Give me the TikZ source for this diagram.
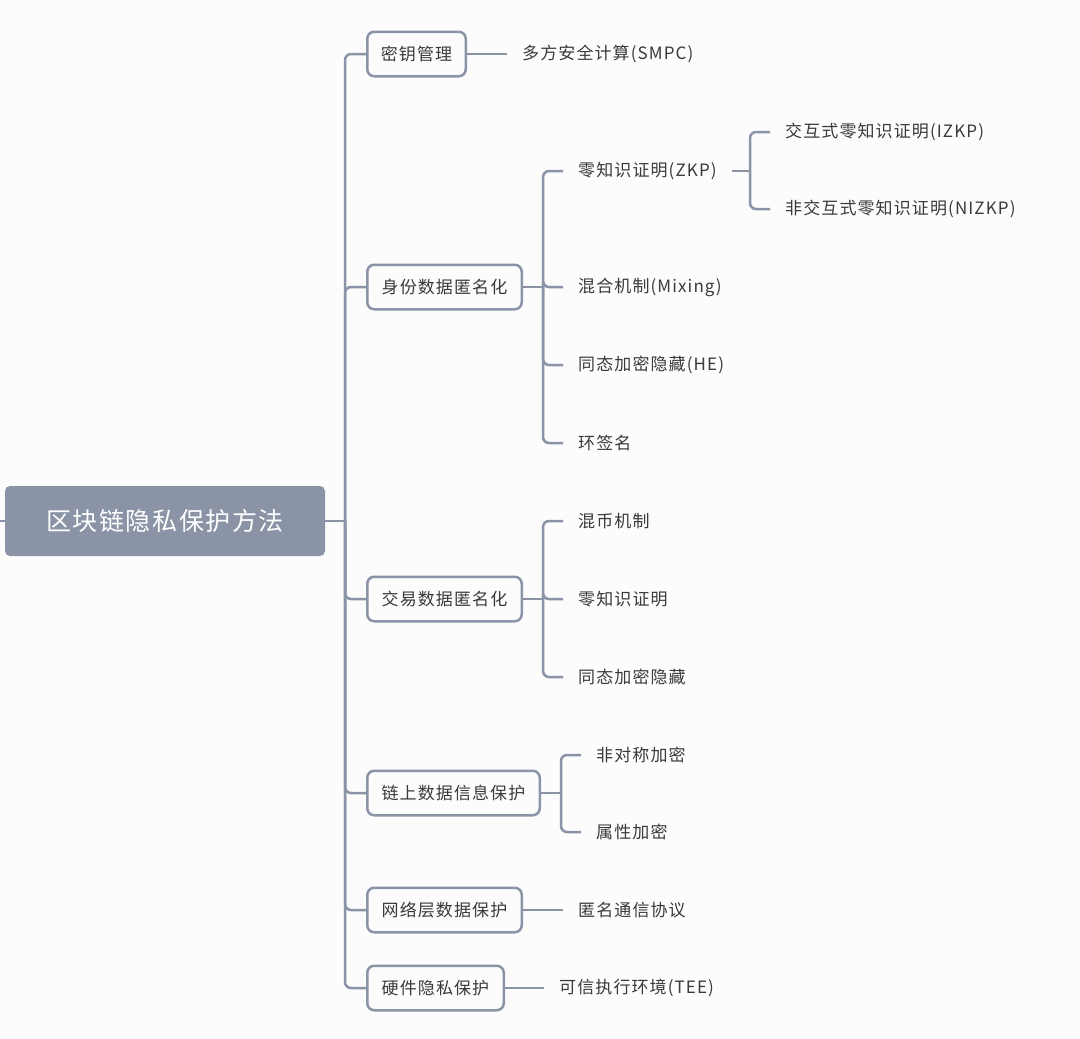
\documentclass[tikz,border=0pt]{standalone}
\usepackage{fontspec}
\newfontfamily\cjk{Noto Sans CJK SC}[LetterSpace=6.5]
\definecolor{ln}{HTML}{8A94A6}
\definecolor{rootfill}{HTML}{8A94A6}
\definecolor{txt}{HTML}{3A3A3A}
\definecolor{bg}{HTML}{FCFCFC}
\tikzset{
  rootbox/.style={fill=rootfill, rounded corners=5pt, minimum width=320pt, minimum height=70pt, text=white, font=\cjk\fontsize{25}{30}\selectfont, inner sep=0pt},
  topic/.style={draw=ln, line width=2.5pt, rounded corners=7pt, minimum height=44.5pt, anchor=west, text=txt, inner sep=0pt},
  leaf/.style={anchor=west, text=txt, inner xsep=15pt, inner ysep=2pt},
  conn/.style={draw=ln, line width=2.5pt, rounded corners=6pt}
}
\begin{document}
\begin{tikzpicture}[x=1pt,y=-1pt, font=\cjk\fontsize{17}{20}\selectfont]
\useasboundingbox[fill=bg] (0,0) rectangle (1080,1039);
% root
\node[rootbox] (root) at (165,521) {区块链隐私保护方法};
\coordinate (l0) at (0,521);
\draw[conn] (l0) -- (root.west);
% topics
\node[topic, minimum width=98.5pt] (t1) at (366,54) {密钥管理};
\node[topic, minimum width=154.5pt] (t2) at (366,287) {身份数据匿名化};
\node[topic, minimum width=154.5pt] (t3) at (366,599) {交易数据匿名化};
\node[topic, minimum width=172.5pt] (t4) at (366,793) {链上数据信息保护};
\node[topic, minimum width=154.5pt] (t5) at (366,910) {网络层数据保护};
\node[topic, minimum width=136.5pt] (t6) at (366,988) {硬件隐私保护};
% trunk
\coordinate (j0) at (345,521);
\draw[conn] (root.east) -- (j0);
\foreach \t in {t1,t2,t3,t4,t5,t6} { \draw[conn] (j0) |- (\t.west); }
% t1 children
\node[leaf] (a1) at (507,54) {多方安全计算(SMPC)};
\draw[conn] (t1.east) -- (a1.west);
% t2 children
\coordinate (j2) at (543,287);
\node[leaf] (b1) at (563,171) {零知识证明(ZKP)};
\node[leaf] (b2) at (563,287) {混合机制(Mixing)};
\node[leaf] (b3) at (563,365) {同态加密隐藏(HE)};
\node[leaf] (b4) at (563,443) {环签名};
\draw[conn] (t2.east) -- (j2);
\foreach \b in {b1,b2,b3,b4} { \draw[conn] (j2) |- (\b.west); }
% ZKP children
\coordinate (jz) at (750,171);
\node[leaf] (c1) at (770,132) {交互式零知识证明(IZKP)};
\node[leaf] (c2) at (770,209) {非交互式零知识证明(NIZKP)};
\draw[conn] (b1.east) -- (jz);
\foreach \c in {c1,c2} { \draw[conn] (jz) |- (\c.west); }
% t3 children
\coordinate (j3) at (543,599);
\node[leaf] (d1) at (563,521) {混币机制};
\node[leaf] (d2) at (563,599) {零知识证明};
\node[leaf] (d3) at (563,677) {同态加密隐藏};
\draw[conn] (t3.east) -- (j3);
\foreach \d in {d1,d2,d3} { \draw[conn] (j3) |- (\d.west); }
% t4 children
\coordinate (j4) at (561,793);
\node[leaf] (e1) at (581,755) {非对称加密};
\node[leaf] (e2) at (581,832) {属性加密};
\draw[conn] (t4.east) -- (j4);
\foreach \e in {e1,e2} { \draw[conn] (j4) |- (\e.west); }
% t5 children
\node[leaf] (f1) at (563,910) {匿名通信协议};
\draw[conn] (t5.east) -- (f1.west);
% t6 children
\node[leaf] (g1) at (544,988) {可信执行环境(TEE)};
\draw[conn] (t6.east) -- (g1.west);
\end{tikzpicture}
\end{document}
